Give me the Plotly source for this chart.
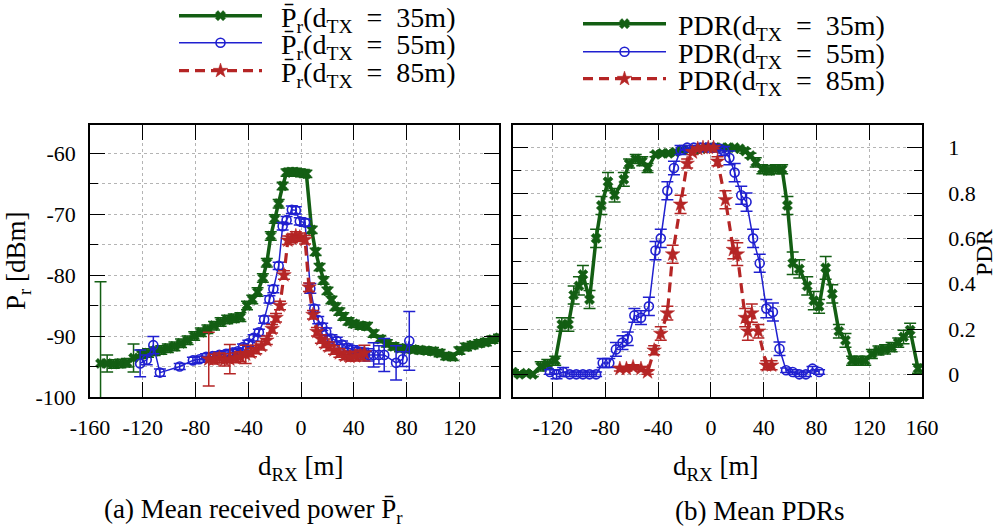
import plotly.graph_objects as go

# ---------------- data ----------------
# (a) mean received power [dBm] vs d_RX [m]
pr35_x = [-152, -147, -142, -137, -132, -127, -121, -116, -111, -106,
          -101, -96, -91, -86, -81, -76, -71, -66, -61, -56,
          -51, -46, -41, -37, -33, -29, -26, -23, -20, -17,
          -14, -11, -8, -5, -2, 1, 4, 8, 11, 14,
          17, 20, 23, 26, 29, 32, 36, 40, 45, 50,
          55, 60, 65, 70, 75, 80, 85, 90, 95, 100,
          105, 110, 115, 120, 125, 130, 135, 140, 145, 150]
pr35_y = [-94.5, -94.5, -94.6, -94.5, -94.4, -93.6, -93.0, -92.8, -92.5, -92.3,
          -92.0, -91.7, -91.2, -90.7, -90.0, -89.4, -88.9, -88.3, -87.7, -87.3,
          -87.1, -86.9, -85.0, -84.0, -82.8, -80.5, -78.0, -73.6, -70.8, -68.3,
          -65.4, -63.2, -63.1, -63.1, -63.2, -63.3, -63.4, -72.6, -76.2, -78.7,
          -80.9, -82.6, -84.1, -85.2, -86.0, -86.8, -87.6, -88.0, -88.3, -88.4,
          -89.6, -90.5, -91.2, -91.7, -92.0, -92.1, -92.2, -92.3, -92.4, -92.5,
          -92.8, -93.3, -93.4, -92.4, -91.8, -91.5, -91.2, -91.0, -90.6, -90.3]
pr35_err = [13.4, 1.4, 0.7, 0.7, 0.7, 2.3, 0.7, 0.7, 0.7, 0.7,
            0.7, 0.7, 0.7, 0.7, 0.7, 0.7, 0.7, 0.7, 0.7, 0.7,
            0.7, 0.7, 0.7, 0.7, 0.7, 0.7, 0.7, 0.7, 0.7, 0.7,
            0.6, 0.6, 0.6, 0.6, 0.6, 0.6, 0.6, 0.6, 0.6, 0.6,
            0.6, 0.6, 0.6, 0.6, 0.6, 0.6, 0.6, 0.6, 0.6, 0.6,
            0.6, 0.6, 0.6, 0.6, 0.6, 0.6, 0.6, 0.6, 0.6, 0.6,
            0.6, 0.6, 0.6, 0.6, 0.6, 0.6, 0.6, 0.6, 0.6, 0.6]

pr55_x = [-122, -117, -112, -107, -92, -82, -77, -72, -67, -62,
          -57, -52, -48, -44, -40, -36, -32, -28, -24, -21,
          -17, -14, -11, -7, -4, -1, 3, 7, 10, 13,
          16, 19, 23, 27, 31, 35, 39, 43, 47, 51,
          55, 59, 63, 72, 77, 82]
pr55_y = [-94.5, -93.9, -91.5, -96.0, -95.0, -94.0, -93.8, -93.4, -93.3, -93.1,
          -92.9, -92.7, -92.5, -91.8, -91.2, -90.3, -89.4, -87.3, -84.0, -82.3,
          -78.5, -72.0, -71.0, -69.3, -69.4, -71.2, -71.4, -82.2, -85.5, -87.4,
          -88.5, -89.3, -90.4, -90.8, -91.4, -91.9, -92.2, -92.5, -92.8, -93.1,
          -93.1, -93.1, -93.1, -94.4, -93.8, -90.8]
pr55_err = [2.2, 0.8, 1.4, 0.6, 0.5, 0.5, 0.5, 0.5, 0.5, 0.5,
            0.5, 0.5, 0.5, 0.5, 0.5, 0.5, 0.5, 0.6, 0.6, 0.6,
            0.6, 0.6, 0.6, 0.6, 0.6, 0.6, 0.6, 0.8, 0.6, 0.6,
            0.6, 0.6, 0.6, 0.6, 0.6, 0.6, 0.6, 0.6, 0.8, 1.0,
            2.0, 1.5, 2.7, 2.8, 1.2, 4.8]

pr85_x = [-70, -66, -62, -58, -54, -50, -46, -42, -38, -34,
          -30, -26, -22, -19, -16, -13, -10, -7, -4, -1,
          3, 6, 9, 12, 15, 18, 21, 25, 29, 33,
          37, 41, 45, 48]
pr85_y = [-93.8, -93.8, -93.6, -93.9, -93.8, -93.6, -93.4, -93.0, -92.7, -92.2,
          -91.6, -90.7, -88.8, -87.0, -85.0, -80.0, -74.3, -74.0, -73.6, -73.8,
          -74.2, -82.0, -86.5, -89.3, -90.5, -91.2, -91.7, -92.3, -92.8, -93.2,
          -93.4, -93.3, -93.1, -92.8]
pr85_err = [4.4, 0.8, 0.8, 1.0, 2.4, 0.8, 0.8, 1.5, 0.7, 0.7,
            0.7, 0.7, 0.7, 0.7, 0.7, 0.7, 0.7, 0.7, 0.7, 0.7,
            0.7, 0.7, 0.7, 0.7, 0.7, 0.7, 0.7, 0.7, 0.7, 0.7,
            0.7, 0.8, 0.8, 1.3]

# (b) mean PDR vs d_RX [m]
pdr35_x = [-150, -145, -140, -135, -129, -124, -118, -113, -108, -104,
           -100, -97, -92, -87, -83, -78, -73, -66, -62, -57,
           -52, -48, -42, -37, -32, -27, -22, -17, -12, -7,
           -2, 3, 8, 13, 18, 22, 26, 30, 34, 39,
           44, 49, 54, 58, 62, 67, 73, 78, 82, 87,
           92, 97, 102, 107, 112, 117, 122, 127, 132, 137,
           142, 146, 151, 157]
pdr35_y = [0.01, 0.0, 0.005, 0.0, 0.035, 0.045, 0.06, 0.22, 0.22, 0.35,
           0.39, 0.44, 0.33, 0.60, 0.745, 0.85, 0.79, 0.86, 0.93, 0.95,
           0.94, 0.91, 0.97, 0.975, 0.975, 0.98, 0.99, 0.99, 0.99, 0.995,
           1.0, 1.0, 1.0, 1.0, 1.0, 0.995, 0.985, 0.965, 0.935, 0.905,
           0.90, 0.905, 0.905, 0.745, 0.49, 0.465, 0.39, 0.325, 0.30, 0.47,
           0.355, 0.19, 0.15, 0.06, 0.06, 0.06, 0.09, 0.105, 0.11, 0.12,
           0.14, 0.165, 0.195, 0.025]
pdr35_err = [0.01, 0.01, 0.01, 0.01, 0.02, 0.02, 0.02, 0.03, 0.03, 0.04,
             0.04, 0.04, 0.04, 0.04, 0.04, 0.04, 0.03, 0.03, 0.02, 0.02,
             0.02, 0.02, 0.01, 0.01, 0.01, 0.01, 0.01, 0.01, 0.01, 0.01,
             0.005, 0.005, 0.005, 0.005, 0.005, 0.005, 0.01, 0.01, 0.02, 0.02,
             0.02, 0.02, 0.02, 0.04, 0.05, 0.04, 0.04, 0.04, 0.03, 0.05,
             0.04, 0.03, 0.03, 0.02, 0.02, 0.02, 0.02, 0.02, 0.02, 0.02,
             0.02, 0.03, 0.03, 0.02]

pdr55_x = [-122, -117, -112, -107, -102, -97, -92, -87, -82, -77,
           -72, -67, -63, -58, -53, -47, -42, -38, -33, -28,
           -23, -18, -13, -8, -3, 2, 7, 10, 14, 18,
           23, 27, 32, 37, 42, 47, 52, 57, 62, 67,
           72, 77, 82]
pdr55_y = [0.01, 0.0, 0.01, 0.0, 0.0, 0.0, 0.0, 0.0, 0.05, 0.05,
           0.11, 0.14, 0.157, 0.26, 0.25, 0.30, 0.546, 0.60, 0.81, 0.91,
           0.99, 1.0, 1.0, 1.0, 1.0, 1.0, 0.995, 0.985, 0.955, 0.89,
           0.79, 0.76, 0.60, 0.49, 0.29, 0.275, 0.113, 0.018, 0.01, 0.0,
           0.0, 0.025, 0.01]
pdr55_err = [0.01, 0.02, 0.02, 0.01, 0.01, 0.01, 0.01, 0.01, 0.02, 0.02,
             0.03, 0.03, 0.03, 0.03, 0.03, 0.04, 0.04, 0.04, 0.04, 0.03,
             0.02, 0.01, 0.01, 0.01, 0.01, 0.01, 0.01, 0.02, 0.03, 0.04,
             0.04, 0.04, 0.04, 0.04, 0.04, 0.04, 0.03, 0.01, 0.01, 0.01,
             0.01, 0.01, 0.01]

pdr85_x = [-69, -64, -59, -53, -48, -43, -38, -33, -29, -23,
           -18, -14, -10, -6, -2, 2, 5, 11, 17, 20,
           26, 28, 31, 36, 42, 46]
pdr85_y = [0.025, 0.025, 0.032, 0.025, 0.01, 0.106, 0.18, 0.27, 0.53, 0.75,
           0.93, 0.98, 0.995, 1.0, 1.0, 1.0, 0.94, 0.77, 0.55, 0.53,
           0.25, 0.19, 0.27, 0.19, 0.04, 0.04]
pdr85_err = [0.01, 0.01, 0.01, 0.01, 0.01, 0.02, 0.03, 0.03, 0.04, 0.04,
             0.02, 0.01, 0.005, 0.005, 0.005, 0.005, 0.02, 0.04, 0.04, 0.05,
             0.04, 0.04, 0.04, 0.03, 0.02, 0.02]

pr_xticks = [-160, -120, -80, -40, 0, 40, 80, 120]
pr_xticktext = ["-160", "-120", "-80", "-40", "0", "40", "80", "120"]
pr_yticks = [-100, -90, -80, -70, -60]
pr_yticktext = ["-100", "-90", "-80", "-70", "-60"]
pdr_xticks = [-120, -80, -40, 0, 40, 80, 120, 160]
pdr_xticktext = ["-120", "-80", "-40", "0", "40", "80", "120", "160"]
pdr_yticks = [0, 0.2, 0.4, 0.6, 0.8, 1]
pdr_yticktext = ["0", "0.2", "0.4", "0.6", "0.8", "1"]

# ---------------- style ----------------
FONT = "Liberation Serif"
GREEN = "#135e13"
BLUE = "#2020d0"
RED = "#b52525"
GRID = "#b4b4b4"
W, H = 1000, 529

EQ = "\u2002=\u2002"
PBAR = "P\u0304"

fig = go.Figure()


def add(x, y, err, color, width, dash, symbol, msize, mline, name, xa, ya, leg):
    fig.add_trace(go.Scatter(
        x=x, y=y, mode="lines+markers", name=name, showlegend=True,
        xaxis=xa, yaxis=ya, legend=leg,
        line=dict(color=color, width=width, dash=dash),
        marker=dict(symbol=symbol, size=msize, color=color,
                    line=dict(color=color, width=mline)),
        error_y=dict(type="data", array=err, visible=True, color=color,
                     thickness=1.5, width=6),
    ))


spl = "\u00a0\u00a0"
spr = "\u00a0"
add(pr35_x, pr35_y, pr35_err, GREEN, 3.5, "solid", "x", 9, 0.5,
    spl + PBAR + "<sub>r</sub>(d<sub>TX</sub>" + EQ + "35m)", "x", "y", "legend")
add(pr55_x, pr55_y, pr55_err, BLUE, 1.5, "solid", "circle-open", 9, 1.6,
    spl + PBAR + "<sub>r</sub>(d<sub>TX</sub>" + EQ + "55m)", "x", "y", "legend2")
add(pr85_x, pr85_y, pr85_err, RED, 3.2, "10px,6px", "star", 11, 0.5,
    spl + PBAR + "<sub>r</sub>(d<sub>TX</sub>" + EQ + "85m)", "x", "y", "legend3")
add(pdr35_x, pdr35_y, pdr35_err, GREEN, 3.5, "solid", "x", 9, 0.5,
    spr + "PDR(d<sub>TX</sub>" + EQ + "35m)", "x2", "y2", "legend4")
add(pdr55_x, pdr55_y, pdr55_err, BLUE, 1.5, "solid", "circle-open", 9, 1.6,
    spr + "PDR(d<sub>TX</sub>" + EQ + "55m)", "x2", "y2", "legend5")
add(pdr85_x, pdr85_y, pdr85_err, RED, 3.2, "10px,6px", "star", 11, 0.5,
    spr + "PDR(d<sub>TX</sub>" + EQ + "85m)", "x2", "y2", "legend6")

ydom = [1 - 397 / H, 1 - 125 / H]
common_axis = dict(showline=True, linecolor="black", linewidth=1.5, mirror="allticks",
                   ticks="inside", ticklen=15, tickwidth=1.2, tickcolor="black",
                   showgrid=True, gridcolor=GRID, griddash="dot", gridwidth=1,
                   zeroline=False, tickfont=dict(family=FONT, size=22, color="black"))

fig.update_layout(
    width=W, height=H, margin=dict(l=0, r=0, t=0, b=0, autoexpand=False),
    paper_bgcolor="white", plot_bgcolor="white", showlegend=True,
    font=dict(family=FONT, color="black"),
    xaxis=dict(domain=[90 / W, 499 / W], range=[-160, 150], tickvals=pr_xticks,
               ticktext=pr_xticktext, anchor="y", ticklabelstandoff=10, **common_axis),
    yaxis=dict(domain=ydom, range=[-100, -55.4], tickvals=pr_yticks, ticktext=pr_yticktext,
               anchor="x", ticklabelstandoff=8,
               minor=dict(tick0=-100, dtick=5, ticklen=8, ticks="inside", tickcolor="black",
                          showgrid=True, gridcolor=GRID, griddash="dot"),
               **common_axis),
    xaxis2=dict(domain=[513 / W, 922 / W], range=[-150, 160], tickvals=pdr_xticks,
                ticktext=pdr_xticktext, anchor="y2", ticklabelstandoff=10, **common_axis),
    yaxis2=dict(domain=ydom, range=[-0.1, 1.1], tickvals=pdr_yticks, ticktext=pdr_yticktext,
                side="right", anchor="x2", ticklabelstandoff=20,
                minor=dict(tick0=0, dtick=0.1, ticklen=8, ticks="inside", tickcolor="black",
                           showgrid=True, gridcolor=GRID, griddash="dot"),
                **common_axis),
)

leg_common = dict(xanchor="left", yanchor="middle", bgcolor="rgba(0,0,0,0)", borderwidth=0,
                  font=dict(family=FONT, size=28, color="black"), itemwidth=83,
                  tracegroupgap=0, visible=True)
fig.update_layout(
    legend=dict(x=174 / W, y=1 - 16 / H, **leg_common),
    legend2=dict(x=174 / W, y=1 - 43 / H, **leg_common),
    legend3=dict(x=174 / W, y=1 - 71 / H, **leg_common),
    legend4=dict(x=578 / W, y=1 - 24 / H, **leg_common),
    legend5=dict(x=578 / W, y=1 - 52 / H, **leg_common),
    legend6=dict(x=578 / W, y=1 - 79 / H, **leg_common),
)


def ann(text, px, py, size, angle=0, xshift=0):
    fig.add_annotation(text=text, x=px / W, y=1 - py / H, xref="paper", yref="paper",
                       showarrow=False, textangle=angle, xanchor="center", yanchor="middle",
                       xshift=xshift, font=dict(family=FONT, size=size, color="black"))


ann("P<sub>r</sub> [dBm]", 18, 261, 27, -90)
ann("PDR", 972, 253, 24, -90, xshift=12)
ann("d<sub>RX</sub> [m]", 300, 468, 27)
ann("d<sub>RX</sub> [m]", 715, 468, 27)
ann("(a) Mean received power " + PBAR + "<sub>r</sub>", 253, 511, 27)
ann("(b) Mean PDRs", 760, 511, 27)

fig.write_html("out.html")
